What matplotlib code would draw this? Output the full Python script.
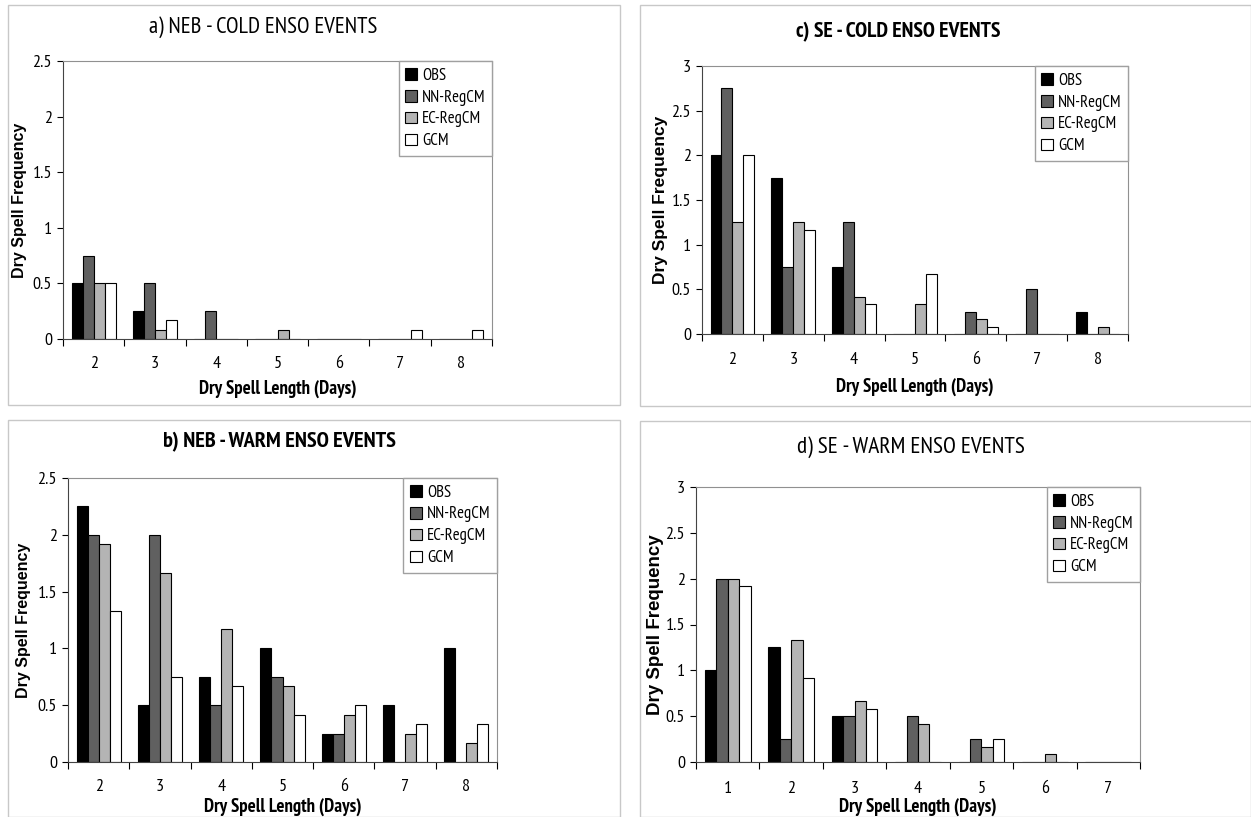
import numpy as np
import matplotlib.pyplot as plt
from matplotlib import font_manager
from matplotlib.patches import Rectangle

plt.rcParams['font.family'] = ['Liberation Sans', 'DejaVu Sans']

# condensed face for most texts, like the original
installed = {f.name for f in font_manager.fontManager.ttflist}
NARROW = [f for f in ["Arial Narrow", "Liberation Sans Narrow", "PT Sans Narrow",
                      "Roboto Condensed", "Archivo Narrow"] if f in installed][:1]
NARROW += ["Liberation Sans", "DejaVu Sans"]

series = ["OBS", "NN-RegCM", "EC-RegCM", "GCM"]
colors = ["#000000", "#606060", "#b4b4b4", "#ffffff"]

days_a = [2, 3, 4, 5, 6, 7, 8]
obs_a = [0.5, 0.25, 0, 0, 0, 0, 0]
nn_a = [0.75, 0.5, 0.25, 0, 0, 0, 0]
ec_a = [0.5, 0.083, 0, 0.083, 0, 0, 0]
gcm_a = [0.5, 0.167, 0, 0, 0, 0.083, 0.083]

days_b = [2, 3, 4, 5, 6, 7, 8]
obs_b = [2.25, 0.5, 0.75, 1.0, 0.25, 0.5, 1.0]
nn_b = [2.0, 2.0, 0.5, 0.75, 0.25, 0, 0]
ec_b = [1.917, 1.667, 1.167, 0.667, 0.417, 0.25, 0.167]
gcm_b = [1.333, 0.75, 0.667, 0.417, 0.5, 0.333, 0.333]

days_c = [2, 3, 4, 5, 6, 7, 8]
obs_c = [2.0, 1.75, 0.75, 0, 0, 0, 0.25]
nn_c = [2.75, 0.75, 1.25, 0, 0.25, 0.5, 0]
ec_c = [1.25, 1.25, 0.417, 0.333, 0.167, 0, 0.083]
gcm_c = [2.0, 1.167, 0.333, 0.667, 0.083, 0, 0]

days_d = [1, 2, 3, 4, 5, 6, 7]
obs_d = [1.0, 1.25, 0.5, 0, 0, 0, 0]
nn_d = [2.0, 0.25, 0.5, 0.5, 0.25, 0, 0]
ec_d = [2.0, 1.333, 0.667, 0.417, 0.167, 0.083, 0]
gcm_d = [1.917, 0.917, 0.583, 0, 0.25, 0, 0]

W, H = 1251, 817
fig = plt.figure(figsize=(W / 100, H / 100), dpi=100)


def px_rect(x0, y0, x1, y1):
    return [x0 / W, 1 - y1 / H, (x1 - x0) / W, (y1 - y0) / H]


def panel(box, axbox, title, title_xy, title_fs, bold, days, values, ymax,
          ylab_x, ylab_fs, xtl_y, xlab_y):
    # light panel frame
    bx0, by0, bx1, by1 = box
    fig.patches.append(Rectangle((bx0 / W, 1 - by1 / H), (bx1 - bx0) / W, (by1 - by0) / H,
                                 transform=fig.transFigure, fill=False,
                                 edgecolor="#c8c8c8", linewidth=1))
    fig.text(title_xy[0] / W, 1 - title_xy[1] / H, title, ha="center", va="center",
             fontsize=title_fs, family=NARROW,
             fontweight="bold" if bold else "normal")

    ax = fig.add_axes(px_rect(*axbox))
    x0, y0, x1, y1 = axbox
    n = len(days)
    x = np.arange(n)
    bw = 0.18
    for i, (name, vals) in enumerate(zip(series, values)):
        ax.bar(x + (i - 1.5) * bw, vals, bw, color=colors[i], edgecolor="black",
               linewidth=0.8, label=name, zorder=2)
    ax.set_xlim(-0.5, n - 0.5)
    ax.set_ylim(0, ymax)
    yt = np.arange(0, ymax + 0.01, 0.5)
    ax.set_yticks(yt)
    ax.set_yticklabels([f"{v:g}" for v in yt], family=NARROW, fontsize=13)
    ax.set_xticks(np.arange(-0.5, n, 1.0))
    ax.set_xticklabels([])
    ax.set_xticks(x, minor=True)
    ax.set_xticklabels([str(d) for d in days], minor=True, family=NARROW, fontsize=13)
    ax.tick_params(axis="x", which="major", length=5, direction="out", width=0.8)
    ax.tick_params(axis="x", which="minor", length=0, pad=(xtl_y - y1 - 7) * 0.72)
    ax.tick_params(axis="y", length=4, direction="out", width=0.8, pad=4)
    for s in ["top", "right"]:
        ax.spines[s].set_color("#909090")
    ax.spines["left"].set_color("#444444")
    ax.spines["bottom"].set_color("#444444")

    ax.set_ylabel("Dry Spell Frequency", fontsize=ylab_fs, fontweight="bold", va="center")
    ax.yaxis.set_label_coords((ylab_x - x0) / (x1 - x0), 0.5)
    ax.set_xlabel("Dry Spell Length (Days)", fontsize=13.5, family=NARROW,
                  fontweight="bold", va="center")
    ax.xaxis.set_label_coords(0.5, -(xlab_y - y1) / (y1 - y0))

    ax.legend(loc="upper right", bbox_to_anchor=(1, 1), borderaxespad=0,
              fancybox=False, edgecolor="#a0a0a0", framealpha=1,
              prop={"family": NARROW, "size": 12},
              handlelength=0.7, handleheight=0.7, handletextpad=0.3,
              labelspacing=0.35, borderpad=0.4)
    return ax


panel((8, 5, 620, 405), (63, 61, 492, 339), "a) NEB - COLD ENSO EVENTS", (263, 27), 16.5, False,
      days_a, [obs_a, nn_a, ec_a, gcm_a], 2.5, 20, 11.5, 363, 389)
panel((640, 5, 1251, 406), (702, 66, 1128, 334), "c) SE - COLD ENSO EVENTS", (898, 32), 15.7, True,
      days_c, [obs_c, nn_c, ec_c, gcm_c], 3.0, 661, 12.5, 359, 387)
panel((8, 420, 620, 817), (68, 478, 497, 762), "b) NEB - WARM ENSO EVENTS", (279, 442), 16, True,
      days_b, [obs_b, nn_b, ec_b, gcm_b], 2.5, 23, 11.5, 786, 807)
panel((640, 421, 1251, 817), (696, 487, 1140, 762), "d) SE - WARM ENSO EVENTS", (911, 447), 16.8, False,
      days_d, [obs_d, nn_d, ec_d, gcm_d], 3.0, 655, 13.5, 788, 807)

fig.savefig("out.png", dpi=100, facecolor="white")
